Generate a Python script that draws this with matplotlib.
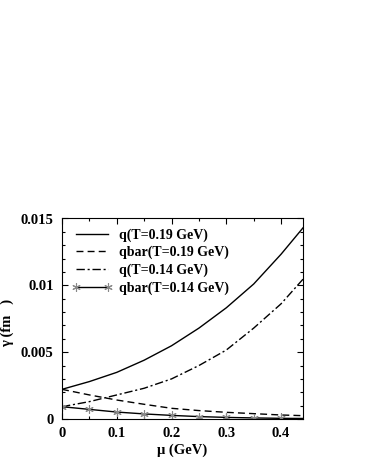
import matplotlib
matplotlib.use("Agg")
import matplotlib.pyplot as plt
from matplotlib.ticker import MultipleLocator

plt.rcParams['font.family'] = ['Liberation Serif', 'DejaVu Serif']
plt.rcParams['font.weight'] = 'bold'

mu = [0.0, 0.05, 0.10, 0.15, 0.20, 0.25, 0.30, 0.35, 0.40, 0.44]
q_019 = [0.00222, 0.0028, 0.00349, 0.0044, 0.00548, 0.0068, 0.00832, 0.0101, 0.01233, 0.0143]
qbar_019 = [0.00222, 0.0018, 0.00142, 0.0011, 0.0008, 0.00063, 0.0005, 0.0004, 0.0003, 0.00025]
q_014 = [0.00092, 0.0013, 0.0018, 0.0023, 0.0030, 0.0040, 0.00516, 0.0068, 0.00862, 0.01046]
qbar_014 = [0.00092, 0.00072, 0.00052, 0.00038, 0.00027, 0.00018, 0.00012, 0.00008, 0.00005, 0.00004]
labels = ["q(T=0.19 GeV)", "qbar(T=0.19 GeV)", "q(T=0.14 GeV)", "qbar(T=0.14 GeV)"]

fig = plt.figure(figsize=(3.66, 4.73), dpi=100)
ax = fig.add_axes([62/366, 1 - 419/473, (303 - 62)/366, (419 - 218.5)/473])

star = (6, 2, 0)
ax.plot(mu, q_019, color='black', lw=1.0, ls='-', label=labels[0])
ax.plot(mu, qbar_019, color='black', lw=1.0, ls=(0, (5, 3)), label=labels[1])
ax.plot(mu, q_014, color='black', lw=1.0, ls=(0, (6, 2, 1.5, 2)), label=labels[2])
ax.plot(mu, qbar_014, color='black', lw=1.0, ls='-', marker=star, ms=6, mew=0.8,
        mfc='#888888', mec='#888888', markevery=list(range(len(mu) - 1)), label=labels[3])

ax.set_xlim(0, 0.44)
ax.set_ylim(0, 0.015)
ax.xaxis.set_minor_locator(MultipleLocator(0.05))
ax.yaxis.set_minor_locator(MultipleLocator(0.001))
ax.set_xticks([0, 0.1, 0.2, 0.3, 0.4])
ax.set_xticklabels(['0', '0.1', '0.2', '0.3', '0.4'])
ax.set_yticks([0, 0.005, 0.01, 0.015])
ax.set_yticklabels(['0', '0.005', '0.01', '0.015'])
ax.tick_params(which='both', direction='in', top=True, right=True, labelsize=10.5, width=0.8)
ax.tick_params(which='major', length=4, pad=6)
ax.tick_params(which='minor', length=2.5)
for lab in ax.get_xticklabels() + ax.get_yticklabels():
    lab.set_fontweight('bold')
for s in ax.spines.values():
    s.set_linewidth(0.8)

ax.set_xlabel("μ (GeV)", fontsize=10.5, fontweight='bold', labelpad=2)
ax.set_ylabel("γ (fm   )", fontsize=10.5, fontweight='bold')
ax.yaxis.set_label_coords(-0.2, 0.48)

leg = ax.legend(loc='upper left', frameon=False, prop={'weight': 'bold', 'size': 10},
                handlelength=2.9, handletextpad=0.5, labelspacing=0.3,
                borderaxespad=0.3, numpoints=2)
fig.savefig("out.png", dpi=100)
